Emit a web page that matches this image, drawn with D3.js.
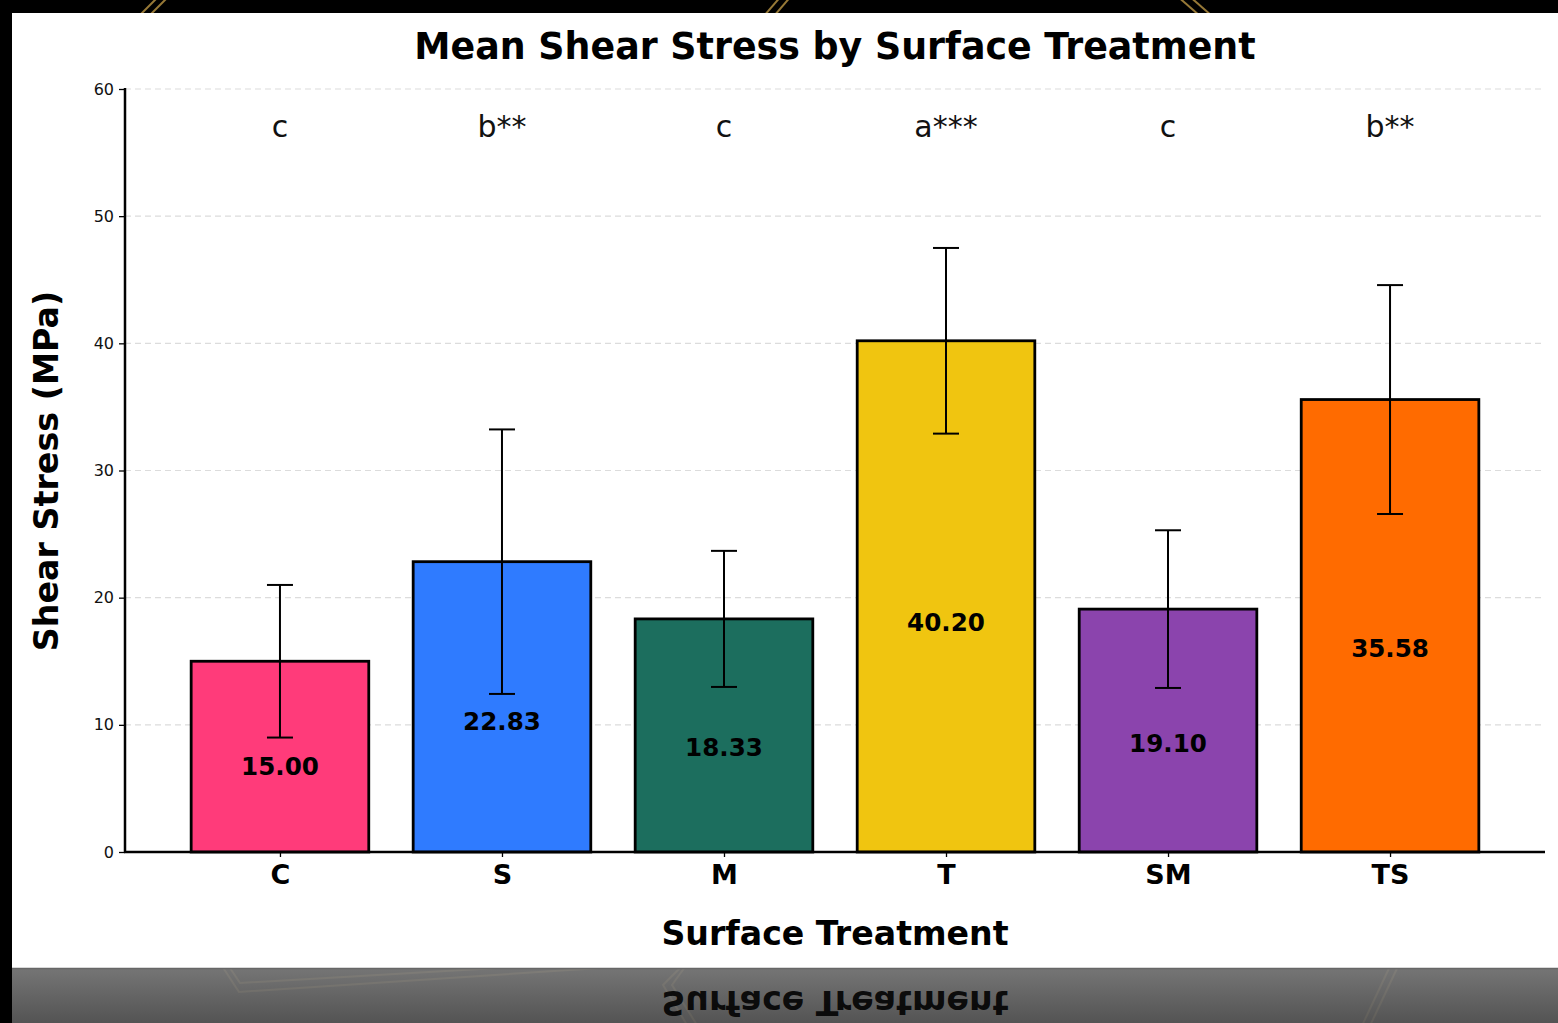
<!DOCTYPE html>
<html>
<head>
<meta charset="utf-8">
<script src="https://cdn.jsdelivr.net/npm/d3@7"></script>
<style>
  body { margin: 0; background: #000; overflow: hidden; }
  svg { display: block; }
  text { font-family: "DejaVu Sans", sans-serif; }
</style>
</head>
<body>
<div id="vis"></div>
<script>
'use strict'

// data
const treatments = ['C', 'S', 'M', 'T', 'SM', 'TS']
const means = [15.00, 22.83, 18.33, 40.20, 19.10, 35.58]
const errors = [6.0, 10.4, 5.35, 7.3, 6.2, 9.0]
const sigLetters = ['c', 'b**', 'c', 'a***', 'c', 'b**']
const barColors = ['#ff3b7a', '#2f7bff', '#1c6e5e', '#f0c510', '#8b44ad', '#ff6b00']
const yTicks = [0, 10, 20, 30, 40, 50, 60]

function wrapper(){
  let width = 1558
  let height = 1023

  let svg = d3.select("#vis").append("svg")
    .attr("width", width)
    .attr("height", height)

  // background decoration (gold lines on black)
  let gold = svg.append("g")
    .attr("fill", "none")
    .attr("stroke", "#c9a24a")
    .attr("stroke-width", 2)
    .attr("stroke-opacity", 0.75)
  let deco = [
    [[160, -5], [125, 30]], [[170, -5], [135, 30]],
    [[782, -5], [752, 30]], [[792, -5], [762, 30]],
    [[1176, -5], [1216, 30]], [[1188, -5], [1228, 30]],
    [[226, 962], [240, 983], [600, 962]], [[222, 966], [239, 992], [600, 968]],
    [[600, 968], [680, 968], [663, 985], [690, 1030]], [[690, 960], [672, 985], [700, 1030]],
    [[1392, 962], [1360, 1030]], [[1400, 962], [1368, 1030]]
  ]
  deco.forEach(function(pts){
    gold.append("path").attr("d", d3.line()(pts))
  })

  // white panel
  svg.append("rect")
    .attr("x", 12).attr("y", 13)
    .attr("width", width - 12).attr("height", 968 - 13)
    .attr("fill", "#ffffff")

  // reflection band
  let defs = svg.append("defs")
  let grad = defs.append("linearGradient").attr("id", "band")
    .attr("x1", 0).attr("y1", 0).attr("x2", 0).attr("y2", 1)
  grad.append("stop").attr("offset", "0%").attr("stop-color", "#7e7e7e").attr("stop-opacity", 0.93)
  grad.append("stop").attr("offset", "100%").attr("stop-color", "#5a5a5a").attr("stop-opacity", 0.93)
  defs.append("clipPath").attr("id", "bandclip")
    .append("rect").attr("x", 12).attr("y", 968).attr("width", width - 12).attr("height", height - 968)

  svg.append("rect")
    .attr("x", 12).attr("y", 968)
    .attr("width", width - 12).attr("height", height - 968)
    .attr("fill", "url(#band)")
  svg.append("line")
    .attr("x1", 12).attr("x2", width)
    .attr("y1", 968.5).attr("y2", 968.5)
    .attr("stroke", "#666").attr("stroke-width", 1.5)

  // scales
  let x = d3.scalePoint()
    .domain(treatments)
    .range([125, 1545])
    .padding(0.698)
  let step = x.step()
  let barW = step * 0.8

  let y = d3.scaleLinear()
    .domain([0, 60])
    .range([852, 89])

  let chart = svg.append("g")

  // grid
  chart.append("g").selectAll("line")
    .data(yTicks.filter(d => d > 0))
    .join("line")
    .attr("x1", 125).attr("x2", 1545)
    .attr("y1", d => y(d)).attr("y2", d => y(d))
    .attr("stroke", "#dcdcdc")
    .attr("stroke-width", 1.2)
    .attr("stroke-dasharray", "6,4")

  // bars
  chart.append("g").selectAll("rect")
    .data(treatments)
    .join("rect")
    .attr("x", d => x(d) - barW / 2)
    .attr("y", (d, i) => y(means[i]))
    .attr("width", barW)
    .attr("height", (d, i) => y(0) - y(means[i]))
    .attr("fill", (d, i) => barColors[i])
    .attr("stroke", "#000")
    .attr("stroke-width", 2.8)

  // error bars
  let eb = chart.append("g").attr("stroke", "#000").attr("stroke-width", 2)
  treatments.forEach(function(t, i){
    let cx = x(t)
    let top = y(means[i] + errors[i])
    let bot = y(means[i] - errors[i])
    eb.append("line").attr("x1", cx).attr("x2", cx).attr("y1", top).attr("y2", bot)
    eb.append("line").attr("x1", cx - 13).attr("x2", cx + 13).attr("y1", top).attr("y2", top)
    eb.append("line").attr("x1", cx - 13).attr("x2", cx + 13).attr("y1", bot).attr("y2", bot)
  })

  // value labels
  chart.append("g").selectAll("text")
    .data(treatments)
    .join("text")
    .attr("x", d => x(d))
    .attr("y", (d, i) => y(means[i] * 0.45))
    .attr("dy", "0.36em")
    .attr("text-anchor", "middle")
    .attr("font-size", 24.6)
    .attr("font-weight", "bold")
    .text((d, i) => means[i].toFixed(2))

  // significance letters
  chart.append("g").selectAll("text")
    .data(treatments)
    .join("text")
    .attr("x", d => x(d))
    .attr("y", 137)
    .attr("text-anchor", "middle")
    .attr("font-size", 30)
    .attr("fill", "#111")
    .text((d, i) => sigLetters[i])

  // axes
  let yAxis = chart.append("g")
    .attr("transform", "translate(125,0)")
    .call(d3.axisLeft(y).tickValues(yTicks).tickSize(6).tickPadding(5))
  yAxis.select(".domain").remove()
  yAxis.selectAll(".tick line").attr("stroke-width", 1.3)
  yAxis.selectAll(".tick text")
    .attr("font-size", 16)
    .attr("font-family", "DejaVu Sans")
    .attr("fill", "#111")

  let xAxis = chart.append("g")
    .attr("transform", "translate(0,852)")
    .call(d3.axisBottom(x).tickSize(5).tickPadding(8))
  xAxis.select(".domain").remove()
  xAxis.selectAll(".tick line").attr("stroke-width", 1.3)
  xAxis.selectAll(".tick text")
    .attr("font-size", 27)
    .attr("font-weight", "bold")
    .attr("font-family", "DejaVu Sans")
    .attr("fill", "#000")

  chart.append("line")
    .attr("x1", 125).attr("x2", 125).attr("y1", 88).attr("y2", 853)
    .attr("stroke", "#000").attr("stroke-width", 2.5)
  chart.append("line")
    .attr("x1", 124).attr("x2", 1545).attr("y1", 852).attr("y2", 852)
    .attr("stroke", "#000").attr("stroke-width", 2.5)

  // titles
  chart.append("text")
    .attr("x", 835).attr("y", 59)
    .attr("text-anchor", "middle")
    .attr("font-size", 36.4)
    .attr("font-weight", "bold")
    .text("Mean Shear Stress by Surface Treatment")

  chart.append("text")
    .attr("transform", "translate(58,471) rotate(-90)")
    .attr("text-anchor", "middle")
    .attr("font-size", 33.3)
    .attr("font-weight", "bold")
    .text("Shear Stress (MPa)")

  chart.append("text")
    .attr("x", 835).attr("y", 945)
    .attr("text-anchor", "middle")
    .attr("font-size", 33.2)
    .attr("font-weight", "bold")
    .text("Surface Treatment")

  // mirrored reflection of the x label in the bottom band
  svg.append("g")
    .attr("clip-path", "url(#bandclip)")
    .append("text")
    .attr("transform", "translate(0," + (2 * 968) + ") scale(1,-1)")
    .attr("x", 835).attr("y", 945)
    .attr("text-anchor", "middle")
    .attr("font-size", 33.2)
    .attr("font-weight", "bold")
    .attr("fill", "#000")
    .attr("fill-opacity", 0.9)
    .text("Surface Treatment")
}

wrapper()
</script>
</body>
</html>
